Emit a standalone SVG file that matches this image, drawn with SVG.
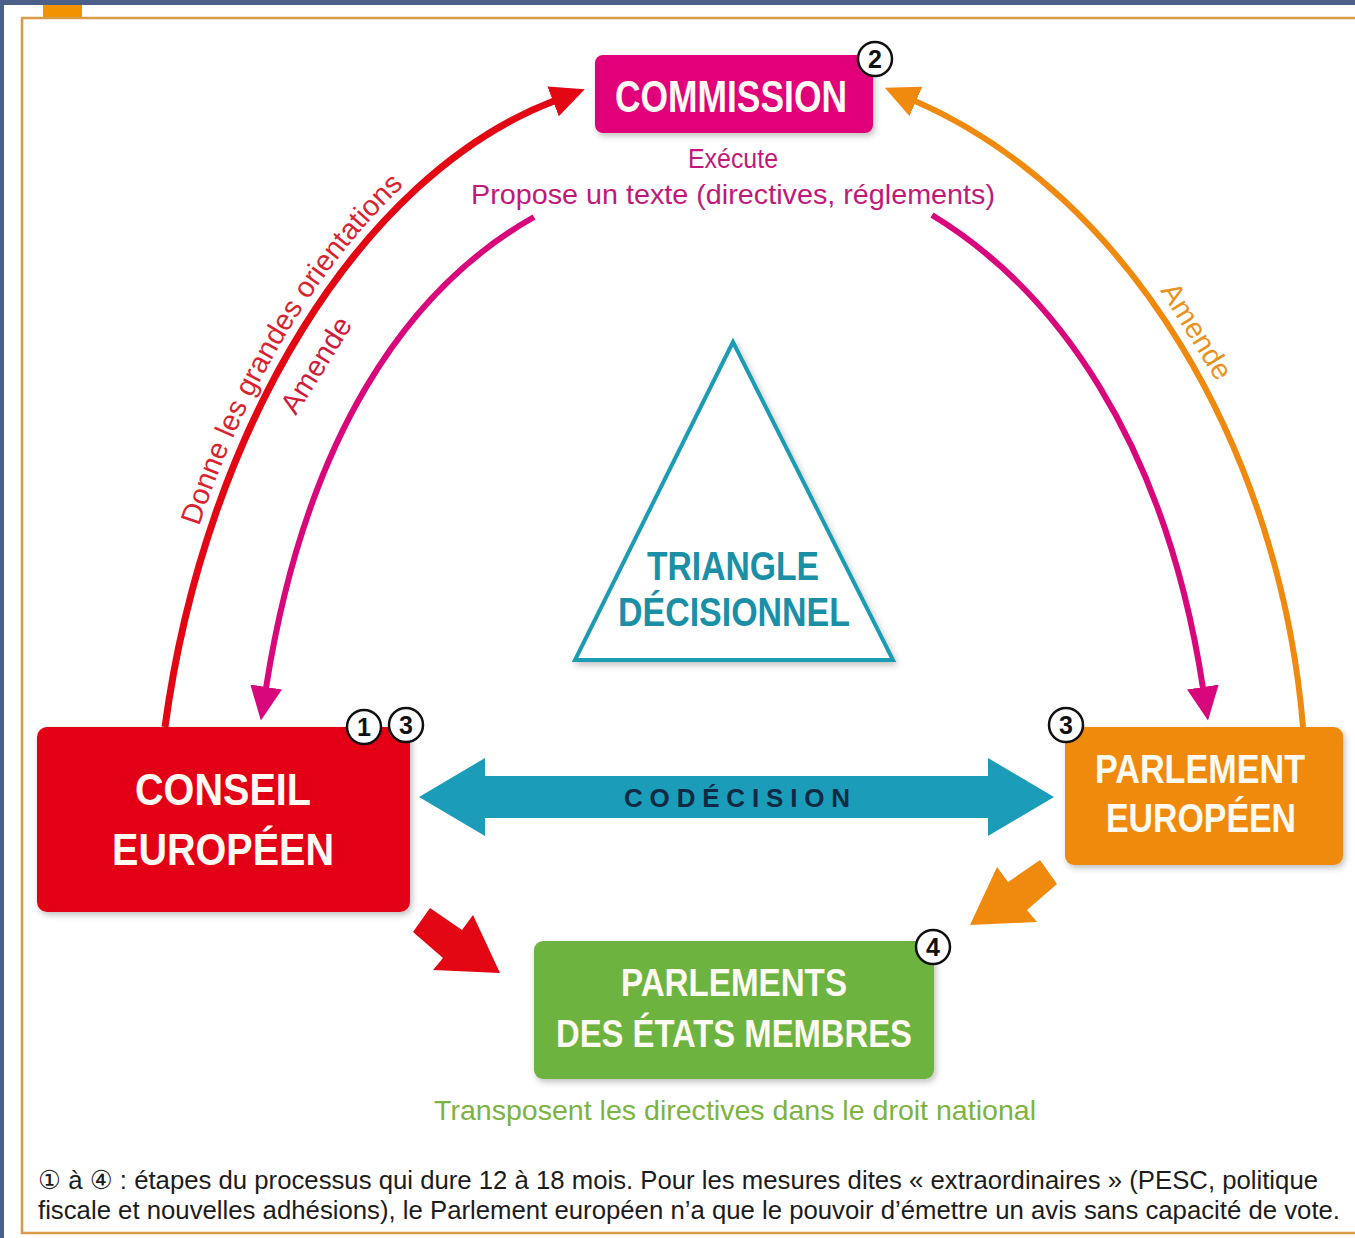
<svg xmlns="http://www.w3.org/2000/svg" width="1355" height="1238" viewBox="0 0 1355 1238">
  <style>
    .box-label { font-family: "Liberation Sans", Arial, sans-serif; font-weight: bold; fill: #fffaf2; text-anchor: middle; }
    .badge circle { fill: #ffffff; stroke: #111111; stroke-width: 2.5; }
    .badge text { font-family: "Liberation Sans", Arial, sans-serif; font-weight: bold; font-size: 25px; fill: #111111; text-anchor: middle; }
    .lbl { font-family: "Liberation Sans", Arial, sans-serif; font-size: 29px; }
    .curve { fill: none; stroke-linecap: butt; }
    .foot { font-family: "Liberation Sans", "DejaVu Sans", Arial, sans-serif; font-size: 26px; fill: #1c1c1c; }
  </style>
  <defs>
    <filter id="shadow" x="-10%" y="-10%" width="125%" height="130%">
      <feDropShadow dx="2" dy="3" stdDeviation="3" flood-color="#000000" flood-opacity="0.25"/>
    </filter>
    <marker id="ah-red" viewBox="0 0 34 32" refX="1" refY="16" markerWidth="34" markerHeight="32" markerUnits="userSpaceOnUse" orient="auto">
      <path d="M0,0 L34,16 L0,32 z" fill="#e30613"/>
    </marker>
    <marker id="ah-mag" viewBox="0 0 34 32" refX="1" refY="16" markerWidth="34" markerHeight="32" markerUnits="userSpaceOnUse" orient="auto">
      <path d="M0,0 L34,16 L0,32 z" fill="#d8087c"/>
    </marker>
    <marker id="ah-orange" viewBox="0 0 34 32" refX="1" refY="16" markerWidth="34" markerHeight="32" markerUnits="userSpaceOnUse" orient="auto">
      <path d="M0,0 L34,16 L0,32 z" fill="#f08a0e"/>
    </marker>
    <path id="tp-donne" d="M153,725 C194,426 352,166 552,89"/>
  </defs>

  <!-- page background and frame -->
  <rect x="0" y="0" width="1355" height="1238" fill="#4c5f88"/>
  <rect x="4" y="5" width="1351" height="1233" fill="#ffffff"/>
  <rect x="43" y="5" width="39" height="13" fill="#f39200"/>
  <rect x="22" y="18" width="1345" height="1215" fill="none" stroke="#d99b45" stroke-width="2.5"/>

  <!-- connectors -->
  <g id="connectors">
    <path class="curve" d="M165,727 C205,430 360,175 554,101" stroke="#e30613" stroke-width="7" marker-end="url(#ah-red)"/>
    <path class="curve" d="M534,217 C405,290 305,440 266,688" stroke="#d8087c" stroke-width="6" marker-end="url(#ah-mag)"/>
    <path class="curve" d="M932,215 C1055,290 1165,440 1203,688" stroke="#d8087c" stroke-width="6" marker-end="url(#ah-mag)"/>
    <path class="curve" d="M1303,727 C1280,450 1130,195 915,101" stroke="#f08a0e" stroke-width="6" marker-end="url(#ah-orange)"/>

    <text class="lbl" fill="#d9232e"><textPath href="#tp-donne" startOffset="204">Donne les grandes orientations</textPath></text>
    <text class="lbl" fill="#d01c3c" x="316" y="375" text-anchor="middle" transform="rotate(-58 316 365)">Amende</text>
    <text class="lbl" fill="#e8921e" x="1197" y="341" text-anchor="middle" transform="rotate(58 1197 331)">Amende</text>

    <g id="codecision">
      <polygon points="419,797 485,758 485,776 988,776 988,758 1054,797 988,836 988,818 485,818 485,836" fill="#1b9dba"/>
      <text x="737" y="807" font-family="Liberation Sans, Arial, sans-serif" font-weight="bold" font-size="26" fill="#0f2a44" text-anchor="middle" textLength="226" lengthAdjust="spacing">CODÉCISION</text>
    </g>

    <polygon id="arrow-conseil-etats" points="430,908 462,930 473,915 500,973 433,970 443,958 413,932" fill="#e30613"/>
    <polygon id="arrow-parlement-etats" points="1040,860 1008,882 997,867 970,925 1037,922 1027,910 1057,884" fill="#f08a0e"/>
  </g>

  <!-- Commission -->
  <g id="commission">
    <rect x="595" y="55" width="278" height="78" rx="8" fill="#e2007a" filter="url(#shadow)"/>
    <text class="box-label" x="731" y="112" font-size="44" textLength="232" lengthAdjust="spacingAndGlyphs">COMMISSION</text>
    <g class="badge"><circle cx="875" cy="59" r="17"/><text x="875" y="68">2</text></g>
    <text x="733" y="168" font-family="Liberation Sans, Arial, sans-serif" font-size="27" fill="#c2187a" text-anchor="middle" textLength="90" lengthAdjust="spacingAndGlyphs">Exécute</text>
    <text x="733" y="204" font-family="Liberation Sans, Arial, sans-serif" font-size="28" fill="#c2187a" text-anchor="middle" textLength="524" lengthAdjust="spacingAndGlyphs">Propose un texte (directives, réglements)</text>
  </g>

  <!-- Triangle décisionnel -->
  <g id="triangle">
    <polygon points="733,342 575,660 893,660" fill="#ffffff" stroke="#1f9cb3" stroke-width="4" stroke-linejoin="miter" filter="url(#shadow)"/>
    <text class="box-label" x="733" y="580" font-size="40" style="fill:#1a8fa6" textLength="172" lengthAdjust="spacingAndGlyphs">TRIANGLE</text>
    <text class="box-label" x="734" y="626" font-size="40" style="fill:#1a8fa6" textLength="232" lengthAdjust="spacingAndGlyphs">DÉCISIONNEL</text>
  </g>

  <!-- Conseil européen -->
  <g id="conseil">
    <rect x="37" y="727" width="373" height="185" rx="10" fill="#e30613" filter="url(#shadow)"/>
    <text class="box-label" x="223" y="805" font-size="44" textLength="176" lengthAdjust="spacingAndGlyphs">CONSEIL</text>
    <text class="box-label" x="223" y="865" font-size="44" textLength="222" lengthAdjust="spacingAndGlyphs">EUROPÉEN</text>
    <g class="badge"><circle cx="364" cy="727" r="17"/><text x="364" y="736">1</text></g>
    <g class="badge"><circle cx="406" cy="725" r="17"/><text x="406" y="734">3</text></g>
  </g>

  <!-- Parlement européen -->
  <g id="parlement">
    <rect x="1065" y="727" width="278" height="138" rx="9" fill="#f08a0e" filter="url(#shadow)"/>
    <text class="box-label" x="1200" y="783" font-size="40" textLength="210" lengthAdjust="spacingAndGlyphs">PARLEMENT</text>
    <text class="box-label" x="1201" y="832" font-size="40" textLength="190" lengthAdjust="spacingAndGlyphs">EUROPÉEN</text>
    <g class="badge"><circle cx="1066" cy="725" r="17"/><text x="1066" y="734">3</text></g>
  </g>

  <!-- Parlements des États membres -->
  <g id="parlements-etats">
    <rect x="534" y="941" width="400" height="138" rx="9" fill="#6db33f" filter="url(#shadow)"/>
    <text class="box-label" x="734" y="996" font-size="38" textLength="226" lengthAdjust="spacingAndGlyphs">PARLEMENTS</text>
    <text class="box-label" x="734" y="1047" font-size="38" textLength="356" lengthAdjust="spacingAndGlyphs">DES ÉTATS MEMBRES</text>
    <g class="badge"><circle cx="933" cy="947" r="17"/><text x="933" y="956">4</text></g>
    <text x="735" y="1120" font-family="Liberation Sans, Arial, sans-serif" font-size="28" fill="#7cb342" text-anchor="middle" textLength="602" lengthAdjust="spacingAndGlyphs">Transposent les directives dans le droit national</text>
  </g>

  <!-- footnote -->
  <g id="footnote">
    <text class="foot" x="38" y="1189" textLength="1280" lengthAdjust="spacingAndGlyphs">① à ④ : étapes du processus qui dure 12 à 18 mois. Pour les mesures dites « extraordinaires » (PESC, politique</text>
    <text class="foot" x="38" y="1219" textLength="1302" lengthAdjust="spacingAndGlyphs">fiscale et nouvelles adhésions), le Parlement européen n’a que le pouvoir d’émettre un avis sans capacité de vote.</text>
  </g>
</svg>
